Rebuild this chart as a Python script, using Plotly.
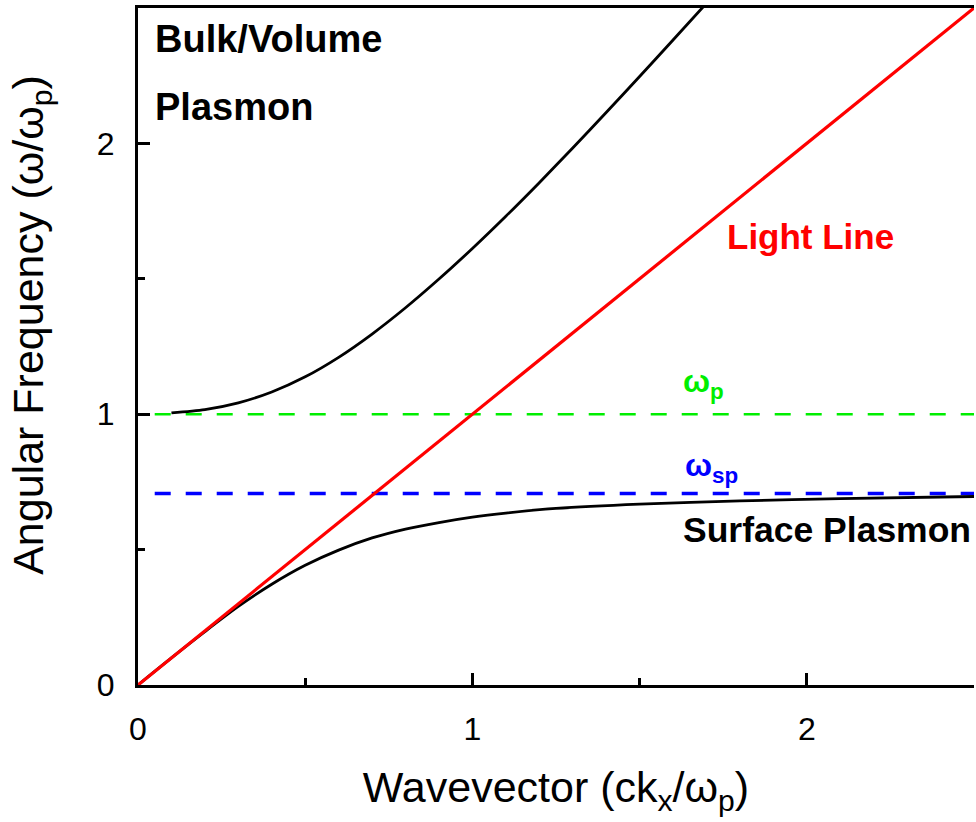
import plotly.graph_objects as go

# Dispersion data (normalised units: k in c/omega_p, omega in omega_p)
bulk_k = [0.10, 0.20, 0.30, 0.40, 0.50, 0.60, 0.70, 0.80, 0.90, 1.00, 1.10, 1.20, 1.30, 1.40, 1.50, 1.60, 1.69]
bulk_w = [1.005, 1.017, 1.042, 1.082, 1.138, 1.210, 1.296, 1.393, 1.499, 1.612, 1.731, 1.855, 1.983, 2.114, 2.247, 2.382, 2.504]

surf_k = [0.0, 0.10, 0.20, 0.30, 0.40, 0.50, 0.60, 0.70, 0.80, 0.90, 1.00, 1.10, 1.25, 1.50, 1.80, 2.10, 2.50]
surf_w = [0.0, 0.10, 0.197, 0.290, 0.372, 0.442, 0.498, 0.543, 0.576, 0.600, 0.620, 0.635, 0.652, 0.668, 0.680, 0.688, 0.696]

light_k = [0.0, 2.5]
light_w = [0.0, 2.5]

wp_level = 1.0
wsp_level = 0.707
level_k = [0.05, 2.5]

x_ticks = [0, 1, 2]
y_ticks = [0, 1, 2]

FONT = "Liberation Sans, Arial, sans-serif"

fig = go.Figure()

fig.add_trace(go.Scatter(x=level_k, y=[wp_level, wp_level], mode="lines",
                         line=dict(color="#00ee00", width=2.5, dash="16px,15px"),
                         hoverinfo="skip"))
fig.add_trace(go.Scatter(x=level_k, y=[wsp_level, wsp_level], mode="lines",
                         line=dict(color="#0000ff", width=3.5, dash="16px,15px"),
                         hoverinfo="skip"))
fig.add_trace(go.Scatter(x=bulk_k, y=bulk_w, mode="lines",
                         line=dict(color="black", width=2.8, shape="spline", smoothing=0.8)))
fig.add_trace(go.Scatter(x=surf_k, y=surf_w, mode="lines",
                         line=dict(color="black", width=2.8, shape="spline", smoothing=0.8)))
fig.add_trace(go.Scatter(x=light_k, y=light_w, mode="lines",
                         line=dict(color="#ff0000", width=3.2)))

annotations = [
    dict(x=0.045, y=2.385, text="<b>Bulk/Volume</b>", xanchor="left", yanchor="middle",
         font=dict(size=38, color="black", family=FONT)),
    dict(x=0.045, y=2.135, text="<b>Plasmon</b>", xanchor="left", yanchor="middle",
         font=dict(size=38, color="black", family=FONT)),
    dict(x=2.01, y=1.655, text="<b>Light Line</b>", xanchor="center", yanchor="middle",
         font=dict(size=35, color="#ff0000", family=FONT)),
    dict(x=2.06, y=0.572, text="<b>Surface Plasmon</b>", xanchor="center", yanchor="middle",
         font=dict(size=35.5, color="black", family=FONT)),
    dict(x=1.69, y=1.115, text="<b>ω<sub>p</sub></b>", xanchor="center", yanchor="middle",
         font=dict(size=32, color="#00ee00", family=FONT)),
    dict(x=1.715, y=0.805, text="<b>ω<sub>sp</sub></b>", xanchor="center", yanchor="middle",
         font=dict(size=32, color="#0000ff", family=FONT)),
]
for a in annotations:
    a.update(xref="x", yref="y", showarrow=False)

# y-axis title placed as a rotated annotation
annotations.append(dict(
    xref="paper", yref="paper", x=-0.128, y=0.532, textangle=-90,
    text="Angular Frequency (ω/ω<sub>p</sub>)", showarrow=False,
    xanchor="center", yanchor="middle",
    font=dict(size=43, color="black", family=FONT)))

axis_common = dict(
    showgrid=False, zeroline=False,
    showline=True, linecolor="black", linewidth=3,
    ticks="inside", ticklen=12, tickwidth=2.5, tickcolor="black",
    tickfont=dict(size=32, color="black", family=FONT),
    minor=dict(ticks="inside", ticklen=7, tickwidth=2.5, tickcolor="black", dtick=0.5),
)

fig.update_layout(
    width=976, height=822,
    margin=dict(l=138, r=2, t=8, b=137),
    paper_bgcolor="white", plot_bgcolor="white",
    showlegend=False,
    annotations=annotations,
    xaxis=dict(range=[0, 2.5], tickvals=x_ticks, ticklabelstandoff=14,
               mirror=True,
               title=dict(text="Wavevector (ck<sub>x</sub>/ω<sub>p</sub>)",
                          font=dict(size=43, color="black", family=FONT), standoff=26),
               **axis_common),
    yaxis=dict(range=[0, 2.5], tickvals=y_ticks, ticklabelstandoff=14,
               **axis_common),
)

fig.write_html("out.html")
